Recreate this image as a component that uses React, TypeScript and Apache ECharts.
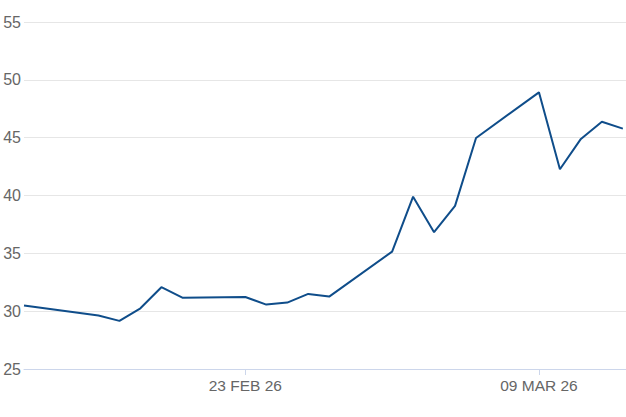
import React, { useEffect, useRef } from "react";
import * as echarts from "echarts";

// Day offsets relative to 23 Feb 2026 (day 0)
const dayOffsets = [-10.55, -7, -6, -5, -4, -3, 0, 1, 2, 3, 4, 7, 8, 9, 10, 11, 14, 15, 16, 17, 18];
const prices = [30.48, 29.62, 29.16, 30.25, 32.07, 31.17, 31.23, 30.57, 30.74, 31.49, 31.26, 35.15, 39.9, 36.83, 39.1, 44.97, 48.92, 42.27, 44.89, 46.38, 45.78];
const xTickDays = [0, 14];
const xTickLabels = ["23 FEB 26", "09 MAR 26"];
const yTicks = [25, 30, 35, 40, 45, 50, 55];

export default function App() {
  const ref = useRef<HTMLDivElement>(null);
  useEffect(() => {
    if (!ref.current) return;
    const chart = echarts.init(ref.current, undefined, { renderer: "svg" });
    chart.setOption({
      animation: false,
      grid: { left: 24, right: 0, top: 22, bottom: 48 },
      xAxis: {
        type: "value",
        min: -10.55,
        max: 18.15,
        splitLine: { show: false },
        axisLine: { show: true, lineStyle: { color: "#ccd6eb", width: 1 } },
        axisTick: {
          show: true,
          length: 6,
          customValues: xTickDays,
          lineStyle: { color: "#ccd6eb" },
        },
        axisLabel: {
          customValues: xTickDays,
          margin: 8,
          color: "#666666",
          fontSize: 15.5,
          fontFamily: "Liberation Sans, Arial, sans-serif",
          formatter: (v: number) => {
            const i = xTickDays.indexOf(Math.round(v));
            return i >= 0 ? xTickLabels[i] : "";
          },
        },
      },
      yAxis: {
        type: "value",
        min: yTicks[0],
        max: yTicks[yTicks.length - 1],
        interval: 5,
        axisLine: { show: false },
        axisTick: { show: false },
        splitLine: { show: true, lineStyle: { color: "#e6e6e6", width: 1 } },
        axisLabel: {
          margin: 3,
          color: "#666666",
          fontSize: 16,
          fontFamily: "Liberation Sans, Arial, sans-serif",
        },
      },
      series: [
        {
          type: "line",
          data: dayOffsets.map((d, i) => [d, prices[i]]),
          showSymbol: false,
          symbol: "none",
          lineStyle: { color: "#0f4d8a", width: 2 },
          itemStyle: { color: "#0f4d8a" },
        },
      ],
    });
    return () => chart.dispose();
  }, []);
  return (
    <div
      ref={ref}
      style={{ position: "fixed", left: 0, top: 0, width: 626, height: 417, background: "#ffffff" }}
    />
  );
}
